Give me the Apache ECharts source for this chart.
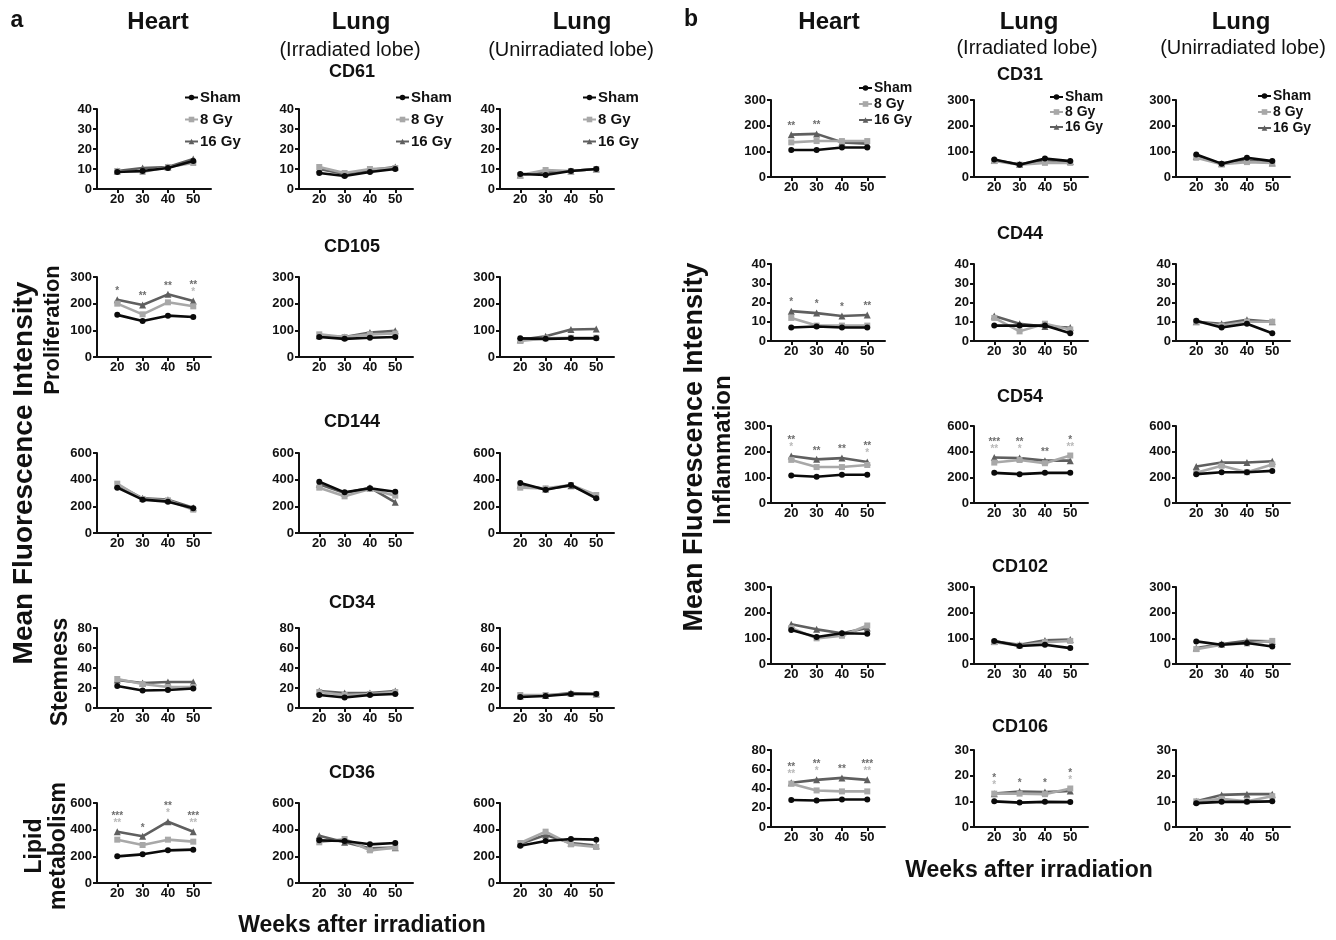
<!DOCTYPE html>
<html>
<head>
<meta charset="utf-8">
<script src="https://cdn.jsdelivr.net/npm/echarts@6/dist/echarts.min.js"></script>
<style>
  html, body { margin: 0; background: #fff; }
  #main { width: 1336px; height: 940px; }
</style>
</head>
<body>
<div id="main"></div>
<script>
// weeks after irradiation
const WEEKS = [20, 30, 40, 50];
const GROUPS = ['Sham', '8 Gy', '16 Gy'];

// each block: [Sham, 8 Gy, 16 Gy]
// panel a
const A_CD61_HEART = [[8.5, 9, 10.5, 14], [9, 8.5, 11, 13], [9, 10.5, 11, 15]];
const A_CD61_LUNG_I = [[8, 6.5, 8.5, 10], [11, 8, 10, 10.5], [10, 7.5, 9.5, 11]];
const A_CD61_LUNG_U = [[7.5, 7, 9, 10], [7, 9.5, 9, 10], [7, 8.5, 9, 10]];
const A_CD105_HEART = [[158, 135, 155, 150], [200, 160, 205, 190], [215, 195, 235, 210]];
const A_CD105_LUNG_I = [[75, 68, 72, 75], [85, 75, 85, 88], [80, 75, 92, 98]];
const A_CD105_LUNG_U = [[70, 68, 70, 70], [60, 70, 72, 72], [65, 78, 103, 105]];
const A_CD144_HEART = [[340, 250, 235, 185], [370, 255, 245, 175], [360, 260, 250, 190]];
const A_CD144_LUNG_I = [[385, 305, 335, 310], [340, 275, 330, 280], [365, 300, 340, 230]];
const A_CD144_LUNG_U = [[375, 325, 360, 260], [340, 335, 360, 285], [360, 330, 355, 275]];
const A_CD34_HEART = [[22, 17.5, 18, 19.5], [29, 24, 21, 21], [28, 25, 26, 26]];
const A_CD34_LUNG_I = [[13, 10.5, 13, 14], [16, 13, 14, 16], [17, 15, 15, 17]];
const A_CD34_LUNG_U = [[11, 12, 14, 14], [13, 13, 14, 14], [12, 12.5, 15, 14]];
const A_CD36_HEART = [[200, 215, 245, 250], [325, 285, 325, 310], [385, 350, 460, 385]];
const A_CD36_LUNG_I = [[320, 315, 290, 300], [305, 330, 245, 265], [355, 305, 260, 265]];
const A_CD36_LUNG_U = [[280, 315, 330, 325], [300, 385, 290, 270], [295, 360, 300, 280]];
// panel b
const B_CD31_HEART = [[105, 105, 115, 115], [135, 140, 140, 140], [165, 168, 135, 130]];
const B_CD31_LUNG_I = [[68, 48, 72, 62], [62, 48, 55, 55], [65, 50, 65, 60]];
const B_CD31_LUNG_U = [[88, 52, 75, 62], [75, 50, 58, 55], [80, 52, 65, 55]];
const B_CD44_HEART = [[7, 7.5, 7, 7], [12, 8, 8, 8], [15.5, 14.5, 13, 13.5]];
const B_CD44_LUNG_I = [[8, 8, 8, 4], [12, 5, 9, 6], [13, 9, 7.5, 7]];
const B_CD44_LUNG_U = [[10.5, 7, 9, 4], [10, 8, 10, 10], [10, 9, 11, 10]];
const B_CD54_HEART = [[107, 102, 110, 110], [168, 140, 140, 148], [183, 170, 175, 160]];
const B_CD54_LUNG_I = [[235, 225, 235, 235], [315, 335, 310, 370], [355, 350, 330, 330]];
const B_CD54_LUNG_U = [[225, 240, 240, 250], [235, 290, 240, 300], [285, 315, 315, 325]];
const B_CD102_HEART = [[132, 105, 120, 118], [140, 100, 110, 150], [155, 135, 120, 140]];
const B_CD102_LUNG_I = [[90, 70, 75, 62], [85, 72, 85, 90], [88, 75, 92, 95]];
const B_CD102_LUNG_U = [[88, 75, 82, 68], [58, 75, 80, 90], [62, 78, 90, 88]];
const B_CD106_HEART = [[28, 27.5, 28.5, 28.5], [45, 38, 37, 37], [46, 49, 51, 49]];
const B_CD106_LUNG_I = [[10, 9.5, 9.8, 9.7], [13, 13, 12.8, 15], [13, 13.8, 13.6, 14]];
const B_CD106_LUNG_U = [[9.3, 9.8, 9.8, 10], [10, 11, 10, 12], [10, 12.5, 12.8, 12.8]];

// significance marks: [16 Gy vs sham, 8 Gy vs sham]
const A_CD105_HEART_STARS = [['*', '**', '**', '**'], ['', '', '', '*']];
const A_CD36_HEART_STARS = [['***', '*', '**', '***'], ['**', '', '*', '**']];
const B_CD31_HEART_STARS = [['**', '**', '', ''], ['', '', '', '']];
const B_CD44_HEART_STARS = [['*', '*', '*', '**'], ['', '', '', '']];
const B_CD54_HEART_STARS = [['**', '**', '**', '**'], ['*', '', '', '*']];
const B_CD54_LUNG_I_STARS = [['***', '**', '**', '*'], ['**', '*', '', '**']];
const B_CD106_HEART_STARS = [['**', '**', '**', '***'], ['**', '*', '', '**']];
const B_CD106_LUNG_I_STARS = [['*', '*', '*', '*'], ['*', '', '', '*']];

const NARROW = '"Liberation Sans Narrow", "Arial Narrow", "Liberation Sans", Arial, sans-serif';
const SANS = '"Liberation Sans", Arial, sans-serif';
const COLORS = ['#0a0a0a', '#a8a8a8', '#5f5f5f'];
const SYMBOLS = ['circle', 'rect', 'triangle'];

const chart = echarts.init(document.getElementById('main'));

const grids = [], xAxes = [], yAxes = [], series = [];

function addPlot(vals, left, top, h, yMax, yStep, stars) {
  const gi = grids.length;
  grids.push({ left: left, top: top, width: 114, height: h });
  xAxes.push({
    type: 'value', gridIndex: gi, min: 12, max: 57,
    axisLine: { show: true, onZero: false, lineStyle: { color: '#111', width: 2 } },
    axisTick: { show: true, customValues: WEEKS, length: 4, lineStyle: { color: '#111', width: 2 } },
    axisLabel: { customValues: WEEKS, margin: 4, color: '#111', fontFamily: NARROW, fontWeight: 'bold', fontSize: 13 },
    splitLine: { show: false }
  });
  yAxes.push({
    type: 'value', gridIndex: gi, min: 0, max: yMax, interval: yStep,
    axisLine: { show: true, lineStyle: { color: '#111', width: 2 } },
    axisTick: { show: true, length: 4, lineStyle: { color: '#111', width: 2 } },
    axisLabel: { margin: 5, color: '#111', fontFamily: NARROW, fontWeight: 'bold', fontSize: 13 },
    splitLine: { show: false }
  });
  // 16 Gy first so Sham sits on top
  [2, 1, 0].forEach(function (k) {
    series.push({
      type: 'line', name: GROUPS[k], xAxisIndex: gi, yAxisIndex: gi,
      data: WEEKS.map(function (w, i) { return [w, vals[k][i]]; }),
      symbol: SYMBOLS[k], symbolSize: k === 2 ? 7 : 6,
      lineStyle: { color: COLORS[k], width: 2.6 },
      itemStyle: { color: COLORS[k] },
      z: 3 + (2 - k)
    });
  });
  if (stars) {
    series.push({
      type: 'scatter', xAxisIndex: gi, yAxisIndex: gi, symbolSize: 0,
      data: WEEKS.map(function (w, i) {
        return [w, Math.max(vals[0][i], vals[1][i], vals[2][i])];
      }),
      label: {
        show: true, position: 'top', distance: 5,
        formatter: function (p) {
          const d = stars[0][p.dataIndex], l = stars[1][p.dataIndex];
          const parts = [];
          if (d) parts.push('{d|' + d + '}');
          if (l) parts.push('{l|' + l + '}');
          return parts.join('\n');
        },
        rich: {
          d: { color: '#4a4a4a', fontSize: 10, fontWeight: 'bold', lineHeight: 7, fontFamily: SANS },
          l: { color: '#a8a8a8', fontSize: 10, fontWeight: 'bold', lineHeight: 7, fontFamily: SANS }
        }
      },
      z: 10
    });
  }
}

const A_LEFTS = [97, 299, 500];
const B_LEFTS = [771, 974, 1176];
const A_TOPS = [109, 277, 453, 628, 803];
const B_TOPS = [100, 264, 426, 587, 750];

// panel a
addPlot(A_CD61_HEART, A_LEFTS[0], A_TOPS[0], 80, 40, 10);
addPlot(A_CD61_LUNG_I, A_LEFTS[1], A_TOPS[0], 80, 40, 10);
addPlot(A_CD61_LUNG_U, A_LEFTS[2], A_TOPS[0], 80, 40, 10);
addPlot(A_CD105_HEART, A_LEFTS[0], A_TOPS[1], 80, 300, 100, A_CD105_HEART_STARS);
addPlot(A_CD105_LUNG_I, A_LEFTS[1], A_TOPS[1], 80, 300, 100);
addPlot(A_CD105_LUNG_U, A_LEFTS[2], A_TOPS[1], 80, 300, 100);
addPlot(A_CD144_HEART, A_LEFTS[0], A_TOPS[2], 80, 600, 200);
addPlot(A_CD144_LUNG_I, A_LEFTS[1], A_TOPS[2], 80, 600, 200);
addPlot(A_CD144_LUNG_U, A_LEFTS[2], A_TOPS[2], 80, 600, 200);
addPlot(A_CD34_HEART, A_LEFTS[0], A_TOPS[3], 80, 80, 20);
addPlot(A_CD34_LUNG_I, A_LEFTS[1], A_TOPS[3], 80, 80, 20);
addPlot(A_CD34_LUNG_U, A_LEFTS[2], A_TOPS[3], 80, 80, 20);
addPlot(A_CD36_HEART, A_LEFTS[0], A_TOPS[4], 80, 600, 200, A_CD36_HEART_STARS);
addPlot(A_CD36_LUNG_I, A_LEFTS[1], A_TOPS[4], 80, 600, 200);
addPlot(A_CD36_LUNG_U, A_LEFTS[2], A_TOPS[4], 80, 600, 200);
// panel b
addPlot(B_CD31_HEART, B_LEFTS[0], B_TOPS[0], 77, 300, 100, B_CD31_HEART_STARS);
addPlot(B_CD31_LUNG_I, B_LEFTS[1], B_TOPS[0], 77, 300, 100);
addPlot(B_CD31_LUNG_U, B_LEFTS[2], B_TOPS[0], 77, 300, 100);
addPlot(B_CD44_HEART, B_LEFTS[0], B_TOPS[1], 77, 40, 10, B_CD44_HEART_STARS);
addPlot(B_CD44_LUNG_I, B_LEFTS[1], B_TOPS[1], 77, 40, 10);
addPlot(B_CD44_LUNG_U, B_LEFTS[2], B_TOPS[1], 77, 40, 10);
addPlot(B_CD54_HEART, B_LEFTS[0], B_TOPS[2], 77, 300, 100, B_CD54_HEART_STARS);
addPlot(B_CD54_LUNG_I, B_LEFTS[1], B_TOPS[2], 77, 600, 200, B_CD54_LUNG_I_STARS);
addPlot(B_CD54_LUNG_U, B_LEFTS[2], B_TOPS[2], 77, 600, 200);
addPlot(B_CD102_HEART, B_LEFTS[0], B_TOPS[3], 77, 300, 100);
addPlot(B_CD102_LUNG_I, B_LEFTS[1], B_TOPS[3], 77, 300, 100);
addPlot(B_CD102_LUNG_U, B_LEFTS[2], B_TOPS[3], 77, 300, 100);
addPlot(B_CD106_HEART, B_LEFTS[0], B_TOPS[4], 77, 80, 20, B_CD106_HEART_STARS);
addPlot(B_CD106_LUNG_I, B_LEFTS[1], B_TOPS[4], 77, 30, 10, B_CD106_LUNG_I_STARS);
addPlot(B_CD106_LUNG_U, B_LEFTS[2], B_TOPS[4], 77, 30, 10);

function legendAt(left, top, gap, size) {
  return {
    data: GROUPS, left: left, top: top, orient: 'vertical',
    itemGap: gap, itemWidth: 13, itemHeight: 7, selectedMode: false,
    textStyle: { fontFamily: NARROW, fontWeight: 'bold', fontSize: size, color: '#111', padding: [0, 0, 0, -3] }
  };
}

function txt(text, x, y, font, rot) {
  return {
    type: 'text', x: x, y: y, rotation: rot || 0, silent: true,
    style: {
      text: text, font: font, fill: '#111',
      align: 'center', verticalAlign: 'middle',
      textAlign: 'center', textVerticalAlign: 'middle'
    }
  };
}

const HEAD = 'bold 24px ' + SANS;
const SUB = '20px ' + SANS;
const MARK = 'bold 18px ' + SANS;
const R = Math.PI / 2;

const texts = [
  txt('a', 17, 21, 'bold 23px ' + SANS),
  txt('Heart', 158, 22, HEAD),
  txt('Lung', 361, 22, HEAD),
  txt('(Irradiated lobe)', 350, 50, SUB),
  txt('Lung', 582, 22, HEAD),
  txt('(Unirradiated lobe)', 571, 50, SUB),
  txt('CD61', 352, 72, MARK),
  txt('CD105', 352, 247, MARK),
  txt('CD144', 352, 422, MARK),
  txt('CD34', 352, 603, MARK),
  txt('CD36', 352, 773, MARK),
  txt('Weeks after irradiation', 362, 926, 'bold 23px ' + SANS),
  txt('Mean Fluorescence Intensity', 24, 473, 'bold 28px ' + SANS, R),
  txt('Proliferation', 53, 330, 'bold 22px ' + SANS, R),
  txt('Stemness', 61, 672, 'bold 23px ' + SANS, R),
  txt('Lipid', 35, 846, 'bold 23px ' + SANS, R),
  txt('metabolism', 59, 846, 'bold 23px ' + SANS, R),

  txt('b', 691, 20, 'bold 23px ' + SANS),
  txt('Heart', 829, 22, HEAD),
  txt('Lung', 1029, 22, HEAD),
  txt('(Irradiated lobe)', 1027, 48, SUB),
  txt('Lung', 1241, 22, HEAD),
  txt('(Unirradiated lobe)', 1243, 48, SUB),
  txt('CD31', 1020, 75, MARK),
  txt('CD44', 1020, 234, MARK),
  txt('CD54', 1020, 397, MARK),
  txt('CD102', 1020, 567, MARK),
  txt('CD106', 1020, 727, MARK),
  txt('Weeks after irradiation', 1029, 871, 'bold 23px ' + SANS),
  txt('Mean Fluorescence Intensity', 695, 447, 'bold 27px ' + SANS, R),
  txt('Inflammation', 723, 450, 'bold 24px ' + SANS, R)
];

chart.setOption({
  animation: false,
  backgroundColor: '#fff',
  grid: grids,
  xAxis: xAxes,
  yAxis: yAxes,
  legend: [
    legendAt(179, 85, 7, 15),
    legendAt(390, 85, 7, 15),
    legendAt(577, 85, 7, 15),
    legendAt(853, 76, 2, 14),
    legendAt(1044, 85, 1, 14),
    legendAt(1252, 84, 2, 14)
  ],
  graphic: texts,
  series: series
});
</script>
</body>
</html>
